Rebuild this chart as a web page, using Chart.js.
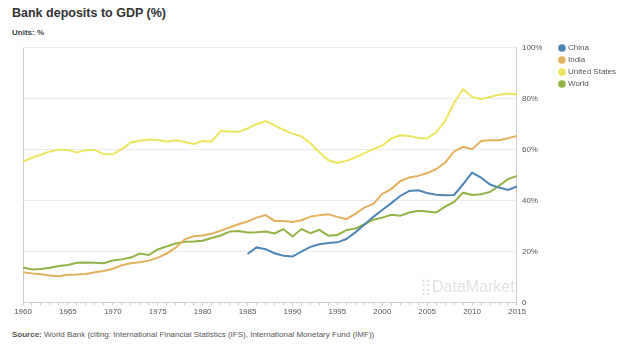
<!DOCTYPE html>
<html>
<head>
<meta charset="utf-8">
<script src="https://cdn.jsdelivr.net/npm/chart.js@4"></script>
<style>
  body { margin: 0; width: 628px; height: 349px; background: #fff; font-family: "Liberation Sans", Arial, sans-serif; position: relative; overflow: hidden; }
  #title { position: absolute; left: 12px; top: 6px; font-size: 12.5px; font-weight: bold; color: #333; }
  #units { position: absolute; left: 12px; top: 28px; font-size: 8px; font-weight: bold; color: #444; }
  #wrap { position: absolute; left: 0; top: 38px; width: 628px; height: 281px; }
  #mark { position: absolute; left: 420px; top: 277px; font-size: 16px; color: #e2e2e2; }
  #source { position: absolute; left: 12px; top: 330px; font-size: 8px; color: #555; }
</style>
</head>
<body>
<div id="title">Bank deposits to GDP (%)</div>
<div id="units">Units: %</div>
<div id="wrap"><canvas id="chart"></canvas></div>
<div id="mark">&#x28FF;DataMarket</div>
<div id="source"><b>Source:</b> World Bank (citing: International Financial Statistics (IFS), International Monetary Fund (IMF))</div>
<script>
const years = [1960, 1961, 1962, 1963, 1964, 1965, 1966, 1967, 1968, 1969,
  1970, 1971, 1972, 1973, 1974, 1975, 1976, 1977, 1978, 1979,
  1980, 1981, 1982, 1983, 1984, 1985, 1986, 1987, 1988, 1989,
  1990, 1991, 1992, 1993, 1994, 1995, 1996, 1997, 1998, 1999,
  2000, 2001, 2002, 2003, 2004, 2005, 2006, 2007, 2008, 2009,
  2010, 2011, 2012, 2013, 2014, 2015];

const china = [null, null, null, null, null, null, null, null, null, null,
  null, null, null, null, null, null, null, null, null, null,
  null, null, null, null, null, 19.0, 21.6, 20.9, 19.3, 18.3,
  18.0, 19.9, 21.8, 22.8, 23.3, 23.6, 24.9, 27.5, 30.5, 33.6,
  36.3, 39.0, 41.8, 43.8, 44.0, 43.0, 42.3, 42.1, 42.2, 46.4,
  51.0, 49.0, 46.3, 45.1, 44.2, 45.5];

const india = [11.8, 11.4, 11.1, 10.6, 10.3, 10.9, 11.0, 11.2, 11.8, 12.3,
  13.2, 14.6, 15.4, 15.8, 16.4, 17.6, 19.2, 21.5, 24.8, 26.0,
  26.3, 27.0, 28.2, 29.4, 30.7, 31.8, 33.3, 34.3, 32.0, 32.0,
  31.6, 32.3, 33.7, 34.2, 34.6, 33.6, 32.7, 34.8, 37.2, 38.7,
  42.6, 44.5, 47.6, 49.1, 49.7, 50.8, 52.3, 54.9, 59.3, 61.1,
  60.2, 63.4, 63.7, 63.7, 64.5, 65.4];

const unitedStates = [55.3, 56.8, 58.0, 59.3, 60.0, 59.9, 58.9, 59.8, 59.9, 58.2,
  58.2, 60.2, 62.8, 63.5, 64.0, 63.8, 63.1, 63.7, 63.0, 62.2,
  63.4, 63.2, 67.3, 67.1, 67.0, 68.3, 70.0, 71.2, 69.5, 67.8,
  66.3, 65.2, 62.5, 59.0, 55.8, 54.8, 55.6, 56.9, 58.6, 60.2,
  61.6, 64.4, 65.6, 65.4, 64.6, 64.5, 66.7, 71.3, 78.4, 83.7,
  80.7, 79.8, 80.7, 81.6, 82.0, 81.7];

const world = [13.7, 12.9, 13.1, 13.6, 14.3, 14.7, 15.6, 15.7, 15.6, 15.4,
  16.5, 16.9, 17.6, 19.2, 18.6, 20.8, 22.0, 23.1, 23.8, 23.9,
  24.2, 25.3, 26.3, 27.8, 28.0, 27.5, 27.6, 27.8, 27.1, 28.8,
  25.9, 28.8, 27.2, 28.5, 26.2, 26.5, 28.4, 29.0, 30.7, 32.5,
  33.3, 34.4, 34.0, 35.3, 36.0, 35.7, 35.3, 37.6, 39.5, 43.1,
  42.2, 42.5, 43.4, 45.8, 48.4, 49.7];

const yTicks = [0, 20, 40, 60, 80, 100];

const line = (label, data, color) => ({
  label: label,
  data: data,
  borderColor: color,
  backgroundColor: color,
  borderWidth: 2,
  pointRadius: 0,
  tension: 0,
  fill: false
});

new Chart(document.getElementById("chart"), {
  type: "line",
  data: {
    labels: years,
    datasets: [
      line("China", china, "#4f86b5"),
      line("India", india, "#e3b15e"),
      line("United States", unitedStates, "#ebe65e"),
      line("World", world, "#93b245")
    ]
  },
  options: {
    responsive: true,
    maintainAspectRatio: false,
    animation: false,
    layout: { padding: { left: 23, right: 2, top: 2, bottom: 0 } },
    plugins: {
      tooltip: { enabled: false },
      legend: {
        position: "right",
        align: "start",
        labels: {
          usePointStyle: true,
          pointStyle: "circle",
          boxWidth: 4,
          boxHeight: 4,
          padding: 4,
          color: "#555",
          font: { size: 8, family: "Liberation Sans" }
        }
      }
    },
    scales: {
      x: {
        offset: false,
        grid: {
          color: ctx => ctx.index === 0 ? "#cccccc" : "rgba(0,0,0,0)",
          tickColor: "#cccccc",
          tickLength: 3
        },
        border: { color: "#cccccc" },
        ticks: {
          autoSkip: false,
          maxRotation: 0,
          padding: 2,
          color: "#555",
          font: { size: 8, family: "Liberation Sans" },
          callback: function (v, i) {
            const yr = years[i];
            return yr % 5 === 0 ? String(yr) : "";
          }
        }
      },
      y: {
        position: "right",
        min: 0,
        max: 100,
        afterBuildTicks: scale => { scale.ticks = yTicks.map(v => ({ value: v })); },
        afterFit: scale => { scale.width = 39; },
        grid: { color: "#ececec", drawTicks: false },
        border: { color: "#cccccc" },
        ticks: {
          padding: 5,
          color: "#555",
          font: { size: 8, family: "Liberation Sans" },
          callback: v => v === 0 ? "0" : v + "%"
        }
      }
    }
  }
});
</script>
</body>
</html>
